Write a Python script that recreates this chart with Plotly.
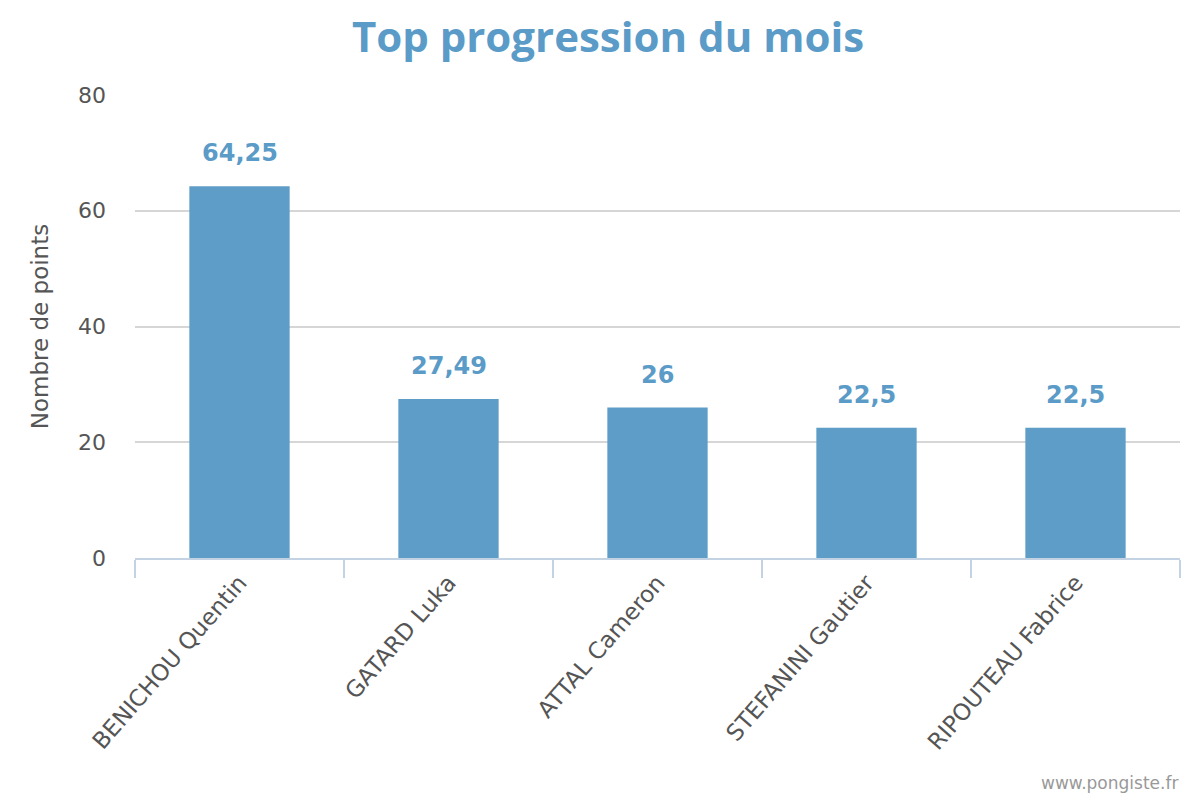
import plotly.graph_objects as go

categories = ["BENICHOU Quentin", "GATARD Luka", "ATTAL Cameron", "STEFANINI Gautier", "RIPOUTEAU Fabrice"]
values = [64.25, 27.49, 26, 22.5, 22.5]
value_labels = ["64,25", "27,49", "26", "22,5", "22,5"]
y_ticks = [0, 20, 40, 60, 80]

bar_color = "#5e9dc8"
text_color = "#5b9bc8"

fig = go.Figure()
fig.add_trace(go.Bar(x=categories, y=values, marker=dict(color=bar_color, line=dict(width=0)),
                     hoverinfo="x+y"))

for c, v, t in zip(categories, values, value_labels):
    fig.add_annotation(x=c, y=v, text="<b>%s</b>" % t, showarrow=False, yshift=33,
                       font=dict(family="DejaVu Sans", size=24, color=text_color))

fig.add_annotation(text="www.pongiste.fr", xref="paper", yref="paper", x=1.0, y=0, xanchor="right",
                   yanchor="middle", yshift=-225, showarrow=False,
                   font=dict(family="DejaVu Sans", size=17, color="#999999"))

fig.update_layout(
    width=1200, height=800,
    margin=dict(l=127, r=28, t=87, b=250),
    paper_bgcolor="white", plot_bgcolor="white",
    title=dict(text="<b>Top progression du mois</b>", x=0.5, xanchor="center", y=0.963, yanchor="middle",
               font=dict(family="Open Sans", size=42, color=text_color)),
    bargap=0.52,
    showlegend=False,
    xaxis=dict(showline=True, linecolor="#c4d3e3", linewidth=2, ticks="outside", tickson="boundaries",
               ticklen=18, tickcolor="#c4d3e3", tickwidth=2, tickangle=-49,
               tickfont=dict(family="DejaVu Sans", size=23, color="#555555"), showgrid=False),
    yaxis=dict(range=[0, 80], tickvals=y_ticks, showgrid=True, gridcolor="#d6d6d6", gridwidth=1.5,
               zeroline=False, showline=False, ticks="", ticklabelstandoff=28,
               tickfont=dict(family="DejaVu Sans", size=22, color="#555555"),
               title=dict(text="Nombre de points", font=dict(family="DejaVu Sans", size=23, color="#555555"),
                          standoff=22)),
)

fig.write_html("out.html")
